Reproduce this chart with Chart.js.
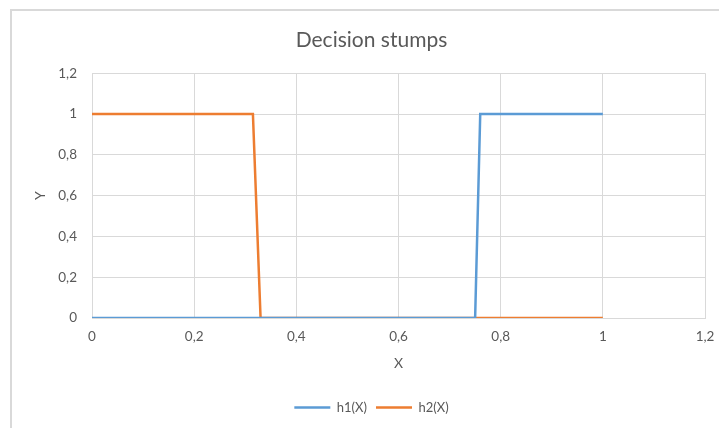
<!DOCTYPE html>
<html>
<head>
<meta charset="utf-8">
<script src="https://cdn.jsdelivr.net/npm/chart.js@4/dist/chart.umd.min.js"></script>
<style>
html,body{margin:0;padding:0;background:#fff;}
#wrap{width:719px;height:428px;position:relative;}
</style>
</head>
<body>
<div id="wrap"><canvas id="c" width="719" height="428"></canvas></div>
<script>
const chartTitle = "Decision stumps";
const seriesNames = ["h1(X)", "h2(X)"];
const h1X = [0, 0.75, 0.76, 1];
const h1Y = [0, 0, 1, 1];
const h2X = [0, 0.315, 0.33, 1];
const h2Y = [1, 1, 0, 0];
const tickValues = [0, 0.2, 0.4, 0.6, 0.8, 1, 1.2];

const FONT = "Lato, 'Open Sans', sans-serif";
const TXT = "#595959";
const GRID = "#d9d9d9";

function pts(xs, ys){ return xs.map((x,i)=>({x:x, y:ys[i]})); }
function fmt(v){ return String(Math.round(v*10)/10).replace('.', ','); }

const borderPlugin = {
  id:'frame',
  beforeDraw(chart){
    const ctx = chart.ctx;
    ctx.save();
    ctx.fillStyle = '#fff';
    ctx.fillRect(0,0,chart.width,chart.height);
    ctx.strokeStyle = GRID;
    ctx.lineWidth = 2;
    ctx.beginPath();
    ctx.moveTo(11, 428);
    ctx.lineTo(11, 10);
    ctx.lineTo(719, 10);
    ctx.stroke();
    ctx.restore();
  }
};

new Chart(document.getElementById('c'), {
  type:'scatter',
  data:{
    datasets:[
      {label:seriesNames[0], data:pts(h1X,h1Y), showLine:true, borderColor:'#5B9BD5', backgroundColor:'#5B9BD5', borderWidth:2.5, pointRadius:0, tension:0},
      {label:seriesNames[1], data:pts(h2X,h2Y), showLine:true, borderColor:'#ED7D31', backgroundColor:'#ED7D31', borderWidth:2.5, pointRadius:0, tension:0}
    ]
  },
  options:{
    responsive:false,
    animation:false,
    layout:{padding:{left:38,right:14,top:0,bottom:4}},
    plugins:{
      title:{display:true, text:chartTitle, color:TXT, font:{family:FONT,size:21,weight:'normal'}, padding:{top:28,bottom:20}},
      legend:{position:'bottom', labels:{color:TXT, font:{family:FONT,size:13}, usePointStyle:true, pointStyle:'line', pointStyleWidth:36, boxHeight:12, padding:9}},
      tooltip:{enabled:false}
    },
    scales:{
      x:{
        type:'linear', min:0, max:1.2,
        afterBuildTicks(s){ s.ticks = tickValues.map(v=>({value:v})); },
        afterFit(s){ s.height = 74; s.paddingLeft = 0; s.paddingRight = 0; },
        grid:{color:GRID, drawTicks:false, lineWidth:1},
        border:{color:GRID},
        ticks:{color:TXT, font:{family:FONT,size:13.5}, padding:11, callback:fmt, maxRotation:0, autoSkip:false},
        title:{display:true, text:'X', color:TXT, font:{family:FONT,size:14}, padding:{top:0,bottom:20}}
      },
      y:{
        type:'linear', min:0, max:1.2,
        afterBuildTicks(s){ s.ticks = tickValues.map(v=>({value:v})); },
        afterFit(s){ s.width = 54; s.paddingTop = 0; s.paddingBottom = 0; },
        grid:{color:GRID, drawTicks:false, lineWidth:1},
        border:{color:GRID},
        ticks:{color:TXT, font:{family:FONT,size:13.5}, padding:15, callback:fmt, autoSkip:false},
        title:{display:true, text:'Y', color:TXT, font:{family:FONT,size:14}, padding:{top:-6,bottom:0}}
      }
    }
  },
  plugins:[borderPlugin]
});
</script>
</body>
</html>
